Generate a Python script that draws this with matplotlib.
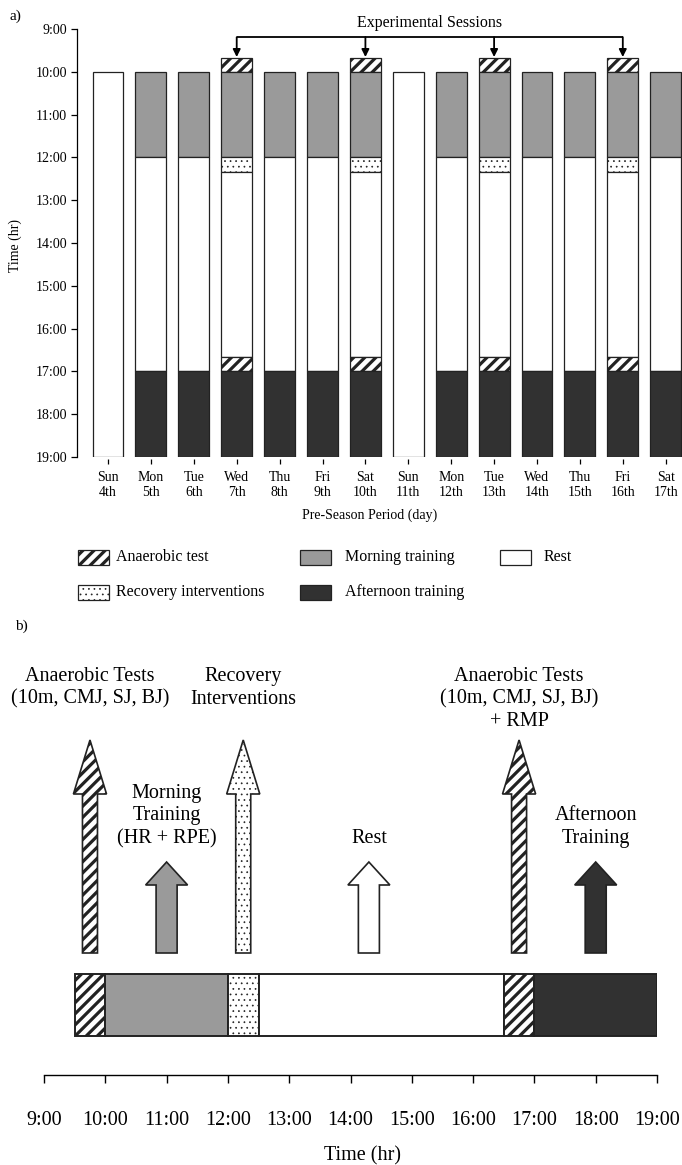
import matplotlib
matplotlib.use("Agg")
import matplotlib.pyplot as plt
from matplotlib.patches import FancyArrow, Rectangle
from matplotlib.transforms import Affine2D

plt.rcParams['font.family'] = ['Liberation Serif', 'DejaVu Serif']
plt.rcParams['hatch.linewidth'] = 2.3

W, H, DPI = 682, 1165, 100

# ---------------- data ----------------
days = ["Sun\n4th", "Mon\n5th", "Tue\n6th", "Wed\n7th", "Thu\n8th", "Fri\n9th", "Sat\n10th",
        "Sun\n11th", "Mon\n12th", "Tue\n13th", "Wed\n14th", "Thu\n15th", "Fri\n16th", "Sat\n17th"]
day_plan = ["rest", "training", "training", "session", "training", "training", "session",
            "rest", "training", "session", "training", "training", "session", "training"]

# (activity, start hour, end hour)
rest_day = [("rest", 10.0, 19.0)]
training_day = [("morning", 10.0, 12.0), ("rest", 12.0, 17.0), ("afternoon", 17.0, 19.0)]
session_day = [("anaerobic", 9 + 40 / 60, 10.0), ("morning", 10.0, 12.0),
               ("recovery", 12.0, 12 + 20 / 60), ("rest", 12 + 20 / 60, 16 + 40 / 60),
               ("anaerobic", 16 + 40 / 60, 17.0), ("afternoon", 17.0, 19.0)]

hour_ticks = list(range(9, 20))
hour_labels = [f"{h}:00" for h in hour_ticks]

legend_rows = [[("anaerobic", "Anaerobic test"), ("morning", "Morning training"), ("rest", "Rest")],
               [("recovery", "Recovery interventions"), ("afternoon", "Afternoon training")]]

# typical experimental day
timeline = [("anaerobic", 9.5, 10.0), ("morning", 10.0, 12.0), ("recovery", 12.0, 12.5),
            ("rest", 12.5, 16.5), ("anaerobic", 16.5, 17.0), ("afternoon", 17.0, 19.0)]
event_time = [9.75, 11.0, 12.25, 14.3, 16.75, 18.0]
event_activity = ["anaerobic", "morning", "recovery", "rest", "anaerobic", "afternoon"]
event_text = ["Anaerobic Tests\n(10m, CMJ, SJ, BJ)", "Morning\nTraining\n(HR + RPE)",
              "Recovery\nInterventions", "Rest",
              "Anaerobic Tests\n(10m, CMJ, SJ, BJ)\n+ RMP", "Afternoon\nTraining"]
event_major = [True, False, True, False, True, False]

# ---------------- styles ----------------
EDGE = "#222222"
STYLE = {
    "anaerobic": dict(fc="white", hatch="///", hlw=2.3),
    "morning": dict(fc="#9a9a9a", hatch=None, hlw=1.0),
    "recovery": dict(fc="white", hatch="...", hlw=0.5),
    "rest": dict(fc="white", hatch=None, hlw=1.0),
    "afternoon": dict(fc="#313131", hatch=None, hlw=1.0),
}


def styled(patch, act):
    st = STYLE[act]
    patch.set_facecolor(st["fc"])
    patch.set_edgecolor(EDGE)
    if st["hatch"]:
        patch.set_hatch(st["hatch"])
        if hasattr(patch, "set_hatch_linewidth"):
            patch.set_hatch_linewidth(st["hlw"])
    return patch


def fig_box(x0, y0, x1, y1):
    return [x0 / W, 1 - y1 / H, (x1 - x0) / W, (y1 - y0) / H]


fig = plt.figure(figsize=(W / DPI, H / DPI), dpi=DPI)
PX = Affine2D().scale(1 / W, -1 / H).translate(0, 1) + fig.transFigure

# ---------------- panel a ----------------
ax = fig.add_axes(fig_box(77, 29, 682, 457))
schedules = {"rest": rest_day, "training": training_day, "session": session_day}
for i, plan in enumerate(day_plan):
    for act, start, end in schedules[plan]:
        bars = ax.bar(i, end - start, bottom=start, width=0.72, linewidth=0.9)
        for b in bars:
            styled(b, act)

ax.set_xlim(-0.723, 13.38)
ax.set_ylim(19, 9)
for s in ["top", "right", "bottom"]:
    ax.spines[s].set_visible(False)
ax.spines["bottom"].set_position(("outward", 1.5))
ax.spines["left"].set_linewidth(0.9)
ax.set_yticks(hour_ticks, hour_labels)
ax.set_xticks(range(len(days)), days)
ax.tick_params(axis="y", direction="out", length=4, width=0.9, pad=3, labelsize=10)
ax.tick_params(axis="x", direction="out", length=3.6, width=0.9, pad=5, labelsize=10)

# experimental sessions bracket
sessions = [i for i, p in enumerate(day_plan) if p == "session"]
y_bracket = 9.19
ax.plot([sessions[0], sessions[-1]], [y_bracket, y_bracket], color="k", lw=1.3,
        clip_on=False, solid_capstyle="butt")
for s in sessions:
    ax.annotate("", xy=(s, 9.655), xytext=(s, y_bracket), annotation_clip=False,
                arrowprops=dict(arrowstyle="-|>", color="k", lw=1.3, mutation_scale=11,
                                shrinkA=0, shrinkB=0))
ax.text((sessions[0] + sessions[-1]) / 2, 8.86, "Experimental Sessions", ha="center",
        va="center", fontsize=11.5, clip_on=False)

fig.text(15 / W, 1 - 16 / H, "a)", ha="center", va="center", fontsize=11)
fig.text(15 / W, 1 - 245 / H, "Time (hr)", rotation=90, ha="center", va="center", fontsize=10)
fig.text(370 / W, 1 - 515 / H, "Pre-Season Period (day)", ha="center", va="center", fontsize=10)

# legend
leg_cols_patch = [78, 300, 500]
leg_cols_text = [116, 345, 544]
leg_rows_y = [557, 592]
for r, row in enumerate(legend_rows):
    for c, (act, label) in enumerate(row):
        rect = Rectangle((leg_cols_patch[c], leg_rows_y[r] - 7.5), 31, 15, transform=PX,
                         linewidth=0.9)
        styled(rect, act)
        fig.add_artist(rect)
        fig.text(leg_cols_text[c], leg_rows_y[r], label, transform=PX, ha="left",
                 va="center", fontsize=11.5)

# ---------------- panel b ----------------
axb = fig.add_axes(fig_box(44, 640, 657, 1075))
axb.set_xlim(9, 19)
axb.set_ylim(0, 435)
for act, start, end in timeline:
    bars = axb.barh(70, end - start, left=start, height=62, linewidth=1.4)
    for b in bars:
        styled(b, act)

for t, act, text, major in zip(event_time, event_activity, event_text, event_major):
    if major:
        length, w, hw, hl = 213, 0.245, 0.54, 54
    else:
        length, w, hw, hl = 91, 0.343, 0.685, 23
    arr = FancyArrow(t, 122, 0, length, width=w, head_width=hw, head_length=hl,
                     length_includes_head=True, linewidth=1.2)
    styled(arr, act)
    axb.add_patch(arr)
    if major:
        axb.text(t, 408, text, ha="center", va="top", fontsize=14.5, linespacing=1.25)
    else:
        axb.text(t, 232, text, ha="center", va="baseline", fontsize=14.5, linespacing=1.25)

for s in ["top", "right", "left"]:
    axb.spines[s].set_visible(False)
axb.spines["bottom"].set_linewidth(1.0)
axb.set_yticks([])
axb.set_xticks(hour_ticks, hour_labels)
axb.tick_params(axis="x", direction="out", length=5.8, width=1.0, pad=20, labelsize=14.5)

fig.text(21 / W, 1 - 626 / H, "b)", ha="center", va="center", fontsize=11)
fig.text(362 / W, 1 - 1156 / H, "Time (hr)", ha="center", va="center", fontsize=14.5)

fig.savefig("out.png", dpi=DPI)
